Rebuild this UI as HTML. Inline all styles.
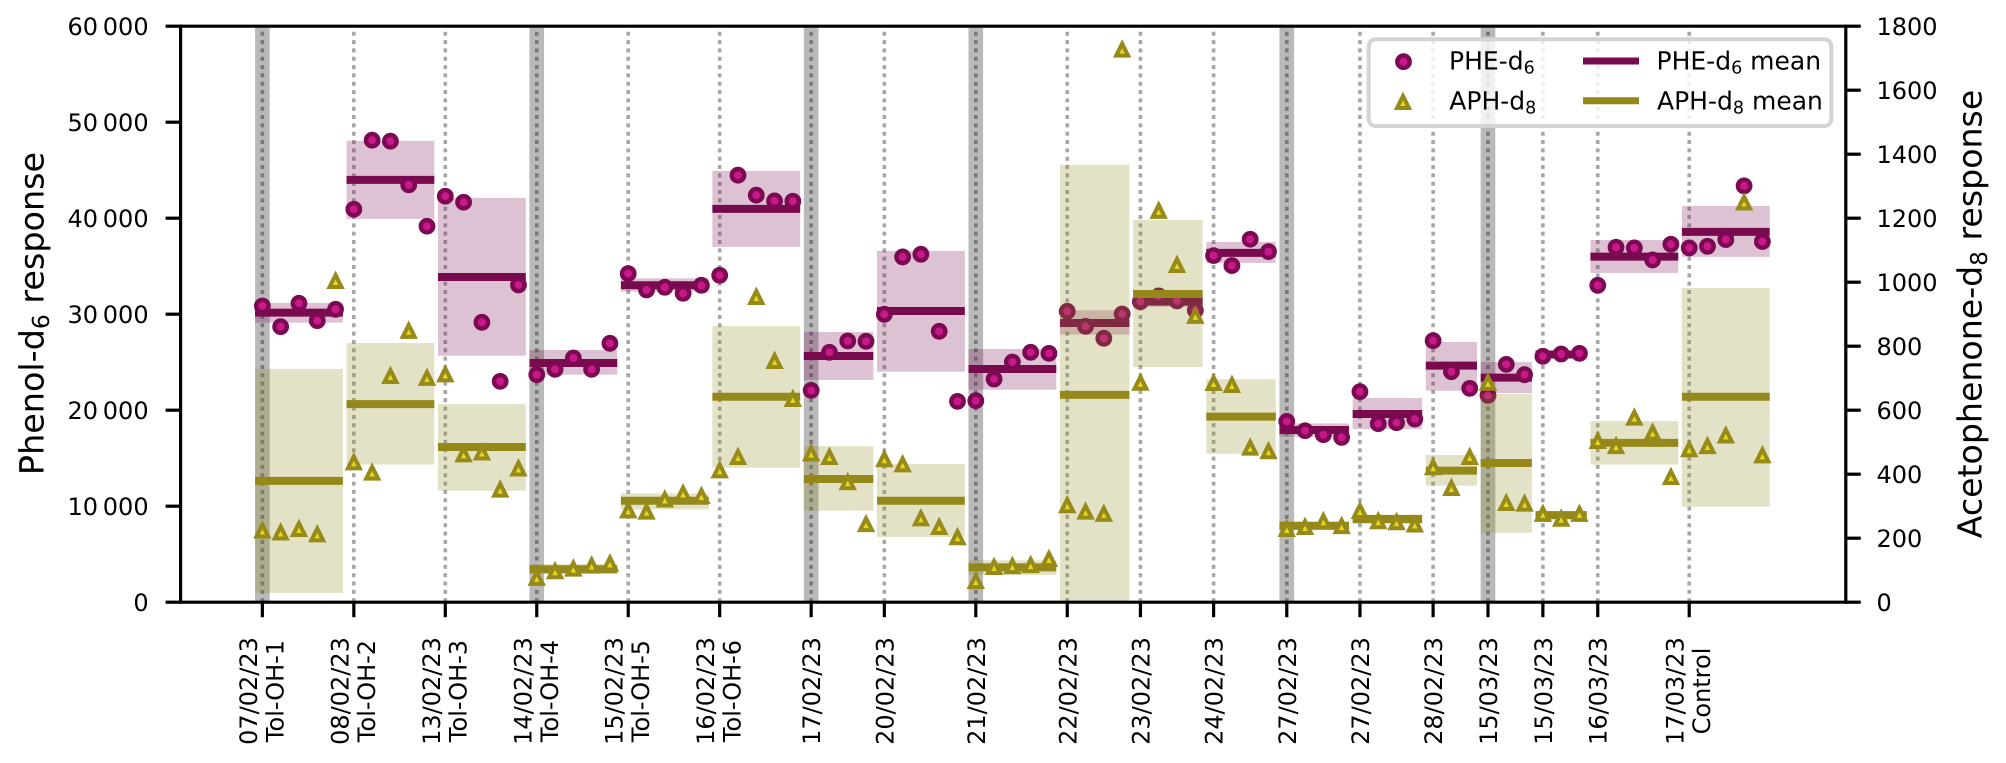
<!DOCTYPE html>
<html lang="en">
<head>
<meta charset="utf-8">
<title>Phenol-d6 and Acetophenone-d8 response</title>
<style>
  html, body { margin: 0; padding: 0; background: #fff; }
  body { width: 2006px; height: 763px; overflow: hidden; }
  svg { display: block; font-family: "DejaVu Sans", "Liberation Sans", sans-serif; text-rendering: geometricPrecision; }
</style>
</head>
<body>
<svg id="chart" xmlns="http://www.w3.org/2000/svg" width="2006" height="763" viewBox="0 0 2006 763">
  <g id="layer-ref"></g>
  <g id="layer-phe"></g>
  <g id="layer-aph"></g>
  <g id="layer-axes"></g>

  <text transform="translate(43.5 313.5) rotate(-90)" text-anchor="middle" font-size="33.4" fill="#000">Phenol-d<tspan font-size="23.4" dy="5.5">6</tspan><tspan dy="-5.5"> response</tspan></text>
  <text transform="translate(1981.7 314) rotate(-90)" text-anchor="middle" font-size="33.2" fill="#000">Acetophenone-d<tspan font-size="23.2" dy="5.5">8</tspan><tspan dy="-5.5"> response</tspan></text>

  <g>
    <rect x="1368.7" y="39.3" width="462.6" height="86.7" rx="7" ry="7" fill="#fff" fill-opacity="0.8" stroke="#d4d4d4" stroke-width="4"></rect>
    <circle cx="1403.5" cy="61.7" r="6.2" fill="#c8188a" stroke="#7b0a52" stroke-width="4.4"></circle>
    <path d="M1403 96 L1397 108 L1409 108 Z" fill="#e6d81e" stroke="#968a1a" stroke-width="4"></path>
    <text x="1449" y="69.3" font-size="25">PHE-d<tspan font-size="17.5" dy="4">6</tspan></text>
    <text x="1449.3" y="109.3" font-size="25">APH-d<tspan font-size="17.5" dy="4">8</tspan></text>
    <line x1="1583" x2="1639" y1="61" y2="61" stroke="#780a4e" stroke-width="7"></line>
    <line x1="1583" x2="1639" y1="100.7" y2="100.7" stroke="#94881a" stroke-width="7"></line>
    <text x="1656.5" y="69.3" font-size="25">PHE-d<tspan font-size="17.5" dy="4">6</tspan><tspan dy="-4"> mean</tspan></text>
    <text x="1657" y="109.3" font-size="25">APH-d<tspan font-size="17.5" dy="4">8</tspan><tspan dy="-4"> mean</tspan></text>
  </g>
</svg>
<script>
// ---- data ----
const xTickDates = ['07/02/23','08/02/23','13/02/23','14/02/23','15/02/23','16/02/23','17/02/23','20/02/23','21/02/23','22/02/23','23/02/23','24/02/23','27/02/23','27/02/23','28/02/23','15/03/23','15/03/23','16/03/23','17/03/23'];
const xTickRuns = ['Tol-OH-1','Tol-OH-2','Tol-OH-3','Tol-OH-4','Tol-OH-5','Tol-OH-6','','','','','','','','','','','','','Control'];
const batchSizes = [5,5,5,5,5,5,4,5,5,4,4,4,4,4,3,3,3,5,5];
const highlightedBatches = [0,3,6,8,12,15];

const leftTickValues = [0,10000,20000,30000,40000,50000,60000];
const leftTickLabels = ['0','10\u2009000','20\u2009000','30\u2009000','40\u2009000','50\u2009000','60\u2009000'];
const rightTickValues = [0,200,400,600,800,1000,1200,1400,1600,1800];
const rightTickLabels = ['0','200','400','600','800','1000','1200','1400','1600','1800'];

const pheValues = [
  30858,28703,31135,29329,30510,
  40935,48127,48024,43472,39163,
  42290,41665,29155,23004,33047,
  23700,24255,25437,24255,26966,
  34229,32526,32804,32179,33012,
  34055,44480,42395,41804,41769,
  22066,26028,27209,27175,
  29989,35966,36244,28217,20920,
  20989,23247,25020,26028,25923,
  30302,28738,27487,30024,
  31310,31900,31380,30406,
  36105,35063,37808,36522,
  18835,17862,17445,17167,
  21927,18591,18696,19078,
  27244,24012,22275,
  21545,24777,23700,
  25611,25854,25923,
  33012,36974,36904,35653,37287,
  36904,37078,37773,43368,37564
];
const pheMeans = [30160,43993,33881,24916,33012,40970,25646,30337,24290,29086,31310,36383,17931,19599,24638,23387,25800,36001,38572];
const pheUpper = [31170,48059,42117,26271,33742,44932,28147,36591,26375,30406,31660,37530,18626,21267,27105,25020,26000,37738,41283];
const pheLower = [29120,39928,25680,23700,32352,37009,23143,24012,22136,27870,30790,35341,17236,18035,22031,21788,25600,34298,35966];

const aphValues = [
  227,221,232,215,1007,
  440,408,710,851,704,
  715,465,471,355,421,
  79,100,108,118,124,
  290,286,324,343,335,
  415,457,957,757,638,
  468,457,378,247,
  450,434,265,238,206,
  69,113,116,119,138,
  306,286,279,1730,
  689,1226,1057,898,
  688,682,486,475,
  232,238,256,241,
  288,256,253,246,
  425,360,457,
  689,313,311,
  279,264,279,
  507,491,580,533,394,
  481,491,524,1252,462
];
const aphMeans = [379,619,485,103,317,642,385,317,109,648,963,580,239,260,411,435,272,498,642];
const aphUpper = [729,810,619,119,340,863,488,432,131,1367,1195,697,251,274,460,651,285,566,982];
const aphLower = [29,430,348,88,290,420,286,204,85,0,735,464,225,244,364,217,258,430,298];

// ---- axis functions ----
const plot = { left: 180.6, right: 1845.8, top: 26.2, bottom: 602.2 };
const xDomain = [-4.47, 86.56];
const leftDomain = [0, 60000];
const rightDomain = [0, 1800];
function xAxis(i) { return plot.left + (i - xDomain[0]) / (xDomain[1] - xDomain[0]) * (plot.right - plot.left); }
function leftAxis(v) { return plot.bottom - (v - leftDomain[0]) / (leftDomain[1] - leftDomain[0]) * (plot.bottom - plot.top); }
function rightAxis(v) { return plot.bottom - (v - rightDomain[0]) / (rightDomain[1] - rightDomain[0]) * (plot.bottom - plot.top); }

const SVG_NS = 'http://www.w3.org/2000/svg';
function make(parent, tag, props) {
  const el = document.createElementNS(SVG_NS, tag);
  for (const k in props) el.setAttribute(k, props[k]);
  parent.appendChild(el);
  return el;
}

const layerRef = document.getElementById('layer-ref');
const layerPhe = document.getElementById('layer-phe');
const layerAph = document.getElementById('layer-aph');
const layerAxes = document.getElementById('layer-axes');

const batchStarts = [];
let runningIndex = 0;
batchSizes.forEach(function (n) { batchStarts.push(runningIndex); runningIndex += n; });
const halfPad = 0.4;

// highlighted vertical spans
highlightedBatches.forEach(function (b) {
  const s = batchStarts[b];
  const el = make(layerRef, 'rect', { x: xAxis(s - halfPad), y: plot.top, width: xAxis(s + halfPad) - xAxis(s - halfPad), height: plot.bottom - plot.top, fill: '#000', 'fill-opacity': 0.275 });
  
  
});
// dotted batch lines
batchStarts.forEach(function (s) {
  const el = make(layerRef, 'line', { x1: xAxis(s), x2: xAxis(s), y1: plot.bottom, y2: plot.top, stroke: '#000', 'stroke-opacity': 0.35, 'stroke-width': 3.6, 'stroke-dasharray': '4 4.33' });
  
  
});

function drawBands(layer, yAxis, upper, lower, color, opacity, name) {
  batchStarts.forEach(function (s, b) {
    const x0 = xAxis(s - halfPad), x1 = xAxis(s + batchSizes[b] - 1 + halfPad);
    const y0 = yAxis(upper[b]), y1 = yAxis(lower[b]);
    const el = make(layer, 'rect', { x: x0, y: y0, width: x1 - x0, height: y1 - y0, fill: color, 'fill-opacity': opacity });
    
    
  });
}
function drawMeans(layer, yAxis, means, color, name) {
  batchStarts.forEach(function (s, b) {
    const y = yAxis(means[b]);
    const el = make(layer, 'line', { x1: xAxis(s - halfPad), x2: xAxis(s + batchSizes[b] - 1 + halfPad), y1: y, y2: y, stroke: color, 'stroke-width': 8 });
    
    
  });
}

// PHE-d6 (left axis)
drawBands(layerPhe, leftAxis, pheUpper, pheLower, '#780a4e', 0.25, 'phe-std-band');
drawMeans(layerPhe, leftAxis, pheMeans, '#780a4e', 'phe-mean-line');
pheValues.forEach(function (v, i) {
  const el = make(layerPhe, 'circle', { cx: xAxis(i), cy: leftAxis(v), r: 6.2, fill: '#c8188a', stroke: '#7b0a52', 'stroke-width': 4.4 });
  
  
});

// APH-d8 (right axis)
drawBands(layerAph, rightAxis, aphUpper, aphLower, '#948a1a', 0.25, 'aph-std-band');
drawMeans(layerAph, rightAxis, aphMeans, '#94881a', 'aph-mean-line');
aphValues.forEach(function (v, i) {
  const cx = xAxis(i), cy = rightAxis(v);
  const el = make(layerAph, 'path', { d: 'M' + cx + ' ' + (cy - 5) + ' L' + (cx - 6) + ' ' + (cy + 7) + ' L' + (cx + 6) + ' ' + (cy + 7) + ' Z', fill: '#e6d81e', stroke: '#968a1a', 'stroke-width': 4 });
  
  
});

// spines
[
  ['left-spine', plot.left, plot.top - 1.6, plot.left, plot.bottom + 1.6],
  ['right-spine', plot.right, plot.top - 1.6, plot.right, plot.bottom + 1.6],
  ['top-spine', plot.left, plot.top, plot.right, plot.top],
  ['bottom-spine', plot.left, plot.bottom, plot.right, plot.bottom]
].forEach(function (d) {
  const el = make(layerAxes, 'line', { x1: d[1], y1: d[2], x2: d[3], y2: d[4], stroke: '#000', 'stroke-width': 3.2 });
  
  
});

// left ticks
leftTickValues.forEach(function (v, k) {
  const y = leftAxis(v);
  const tick = make(layerAxes, 'line', { x1: plot.left - 15, x2: plot.left, y1: y, y2: y, stroke: '#000', 'stroke-width': 3.2 });
  
  
  const label = make(layerAxes, 'text', { x: 148.6, y: y + 8.7, 'text-anchor': 'end', 'font-size': 24 });
  label.textContent = leftTickLabels[k];
  
  
});
// right ticks
rightTickValues.forEach(function (v, k) {
  const y = rightAxis(v);
  const tick = make(layerAxes, 'line', { x1: plot.right, x2: plot.right + 15, y1: y, y2: y, stroke: '#000', 'stroke-width': 3.2 });
  
  
  const label = make(layerAxes, 'text', { x: 1876.5, y: y + 8.7, 'font-size': 24 });
  label.textContent = rightTickLabels[k];
  
  
});
// x ticks
batchStarts.forEach(function (s, b) {
  const x = xAxis(s);
  const tick = make(layerAxes, 'line', { x1: x, x2: x, y1: plot.bottom, y2: plot.bottom + 15, stroke: '#000', 'stroke-width': 3.2 });
  
  
  const hasRun = xTickRuns[b] !== '';
  const dateX = hasRun ? x - 5.5 : x + 9;
  const dateLabel = make(layerAxes, 'text', { transform: 'translate(' + dateX + ' 691) rotate(-90)', 'text-anchor': 'middle', 'font-size': 24 });
  dateLabel.textContent = xTickDates[b];
  
  
  if (hasRun) {
    const runLabel = make(layerAxes, 'text', { transform: 'translate(' + (x + 21) + ' 691) rotate(-90)', 'text-anchor': 'middle', 'font-size': 24 });
    runLabel.textContent = xTickRuns[b];
    
    
  }
});
</script>
</body>
</html>
